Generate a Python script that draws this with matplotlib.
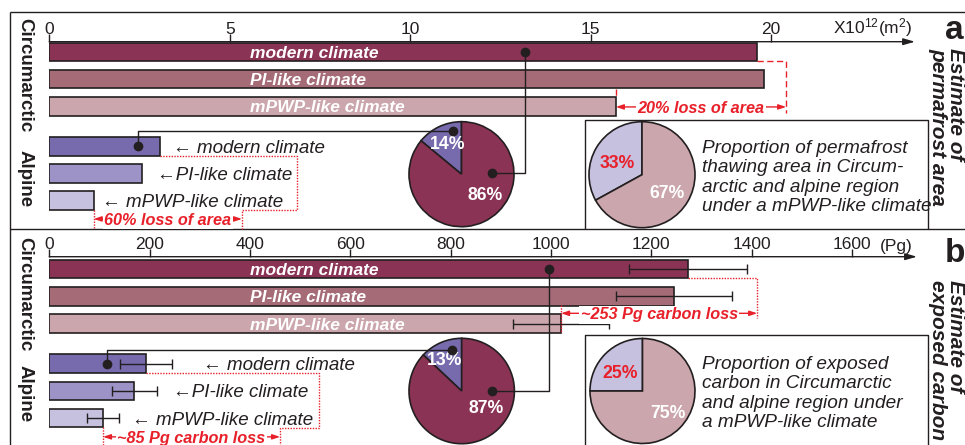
import matplotlib
matplotlib.use("Agg")
import matplotlib.pyplot as plt

plt.rcParams["font.family"] = ["Liberation Sans", "DejaVu Sans"]
plt.rcParams["mathtext.fontset"] = "custom"
plt.rcParams["mathtext.rm"] = "Liberation Sans"
plt.rcParams["mathtext.it"] = "Liberation Sans:italic"
plt.rcParams["mathtext.bf"] = "Liberation Sans:bold"

# ---------------------------------------------------------------- data
climates = ["modern climate", "PI-like climate", "mPWP-like climate"]
alpine_labels = ["\u2190 modern climate", "\u2190PI-like climate", "\u2190 mPWP-like climate"]

# (a) permafrost area, x10^12 m^2
area_circ = [19.6, 19.8, 15.7]
area_alp = [3.07, 2.57, 1.23]
area_ticks = [0, 5, 10, 15, 20]

# (b) exposed carbon, Pg
carbon_circ = [1273, 1245, 1020]
carbon_circ_err = [117, 115, 95]
carbon_alp = [192, 169, 107]
carbon_alp_err = [52, 45, 31]
carbon_ticks = [0, 200, 400, 600, 800, 1000, 1200, 1400, 1600]

# pie shares (alpine, circumarctic)
area_share_modern = [14, 86]
area_share_loss = [33, 67]
carbon_share_modern = [13, 87]
carbon_share_loss = [25, 75]

# ---------------------------------------------------------------- style
INK = "#231f20"
RED = "#e8202a"
CIRC_COLORS = ["#8b3354", "#a56c78", "#cba7ad"]
ALP_COLORS = ["#776bad", "#9e93c6", "#c7c1e0"]
ROWS_CIRC = [0, 1, 2]
ROWS_ALP = [3.47, 4.47, 5.47]
BAR_H = 0.68
DOTTED = (0, (1, 1))
DASHED = (0, (4.5, 2.5))

W, H = 965, 445
fig = plt.figure(figsize=(W / 100, H / 100), dpi=100)


def rect_px(x0, y0, x1, y1):
    return [x0 / W, 1 - y1 / H, (x1 - x0) / W, (y1 - y0) / H]


# background layer in pixel units (frames, boxes, captions)
bg = fig.add_axes([0, 0, 1, 1], zorder=0)
bg.set_xlim(0, W)
bg.set_ylim(H, 0)
bg.axis("off")

for xs, ys in [([10, 10], [12, H]), ([10, W], [12, 12]), ([10, W], [229, 229]),
               ([585, 585, 928, 928], [229, 120, 120, 229]),
               ([585, 585, 928, 928], [H, 335, 335, H])]:
    bg.plot(xs, ys, color=INK, lw=1.0, solid_capstyle="butt")


def bar_panel(rect, xlim, ylim, ticks, circ, alp, circ_err=None, alp_err=None):
    ax = fig.add_axes(rect, zorder=2)
    ax.patch.set_visible(False)
    ax.set_xlim(*xlim)
    ax.set_ylim(*ylim)
    for s in ax.spines.values():
        s.set_visible(False)
    ax.set_yticks([])
    ax.xaxis.set_ticks_position("top")
    ax.set_xticks(ticks)
    ax.set_xticklabels([str(t) for t in ticks])
    ax.tick_params(axis="x", direction="out", length=6, width=1, pad=-2.6,
                   labelsize=12.5, color=INK, labelcolor=INK)
    ax.annotate("", xy=(1, 1), xytext=(0, 1), xycoords="axes fraction",
                arrowprops=dict(arrowstyle="-|>,head_length=0.7,head_width=0.2",
                                color=INK, lw=1, shrinkA=0, shrinkB=0))
    ax.barh(ROWS_CIRC, circ, height=BAR_H, color=CIRC_COLORS,
            edgecolor=INK, linewidth=1.2, zorder=2)
    ax.barh(ROWS_ALP, alp, height=BAR_H, color=ALP_COLORS,
            edgecolor=INK, linewidth=1.2, zorder=2)
    if circ_err is not None:
        ax.errorbar(circ, ROWS_CIRC, xerr=circ_err, fmt="none", ecolor=INK,
                    elinewidth=1, capsize=3.5, capthick=1, zorder=3)
        ax.errorbar(alp, ROWS_ALP, xerr=alp_err, fmt="none", ecolor=INK,
                    elinewidth=1, capsize=3.5, capthick=1, zorder=3)
    return ax


def bar_text(ax, x_in, x_alp):
    for r, lab in zip(ROWS_CIRC, climates):
        ax.text(x_in, r, lab, color="white", fontsize=12.5, fontweight="bold",
                style="italic", ha="left", va="center_baseline", zorder=4)
    for r, lab, x in zip(ROWS_ALP, alpine_labels, x_alp):
        ax.text(x, r, lab, color=INK, fontsize=13.5, style="italic",
                ha="left", va="center_baseline", zorder=4)


def loss_arrow(ax, x0, x1, y, text):
    ax.annotate("", xy=(x0, y), xytext=(x1, y), annotation_clip=False,
                arrowprops=dict(arrowstyle="<|-|>,head_length=0.45,head_width=0.15",
                                color=RED, lw=1, shrinkA=0, shrinkB=0))
    ax.text((x0 + x1) / 2, y, text, color=RED, fontsize=11.7, fontweight="bold",
            style="italic", ha="center", va="center_baseline", zorder=6,
            bbox=dict(facecolor="white", edgecolor="none", pad=1.0))


def red_path(ax, xs, ys, ls):
    ax.plot(xs, ys, color=RED, lw=1, linestyle=ls, clip_on=False, zorder=5)


def pie_panel(cx, cy, r, shares, colors, label_pos, label_colors):
    m = 1.05
    ax = fig.add_axes(rect_px(cx - r * m, cy - r * m, cx + r * m, cy + r * m), zorder=1)
    ax.pie(shares, colors=colors, startangle=90, counterclock=True,
           wedgeprops=dict(edgecolor=INK, linewidth=1.2))
    ax.set_xlim(-m, m)
    ax.set_ylim(-m, m)
    for share, (tx, ty), c in zip(shares, label_pos, label_colors):
        ax.text(tx, ty, f"{share}%", color=c, fontsize=12.7, fontweight="bold",
                ha="center", va="center_baseline")
    return ax


def connector(ax, bar_xy, pie_ax, pie_xy):
    disp = pie_ax.transData.transform(pie_xy)
    px, py = ax.transData.inverted().transform(disp)
    bx, by = bar_xy
    ax.plot([bx, bx, px], [by, py, py], color=INK, lw=1, clip_on=False, zorder=5)
    ax.plot([bx, px], [by, py], "o", color=INK, ms=6, clip_on=False, zorder=6)


# ---------------------------------------------------------------- panel a
ax_a = bar_panel(rect_px(49.3, 41.7, 915, 229), (0, 23.99), (6.51, -0.379),
                 area_ticks, area_circ, area_alp)
bar_text(ax_a, 5.57, [3.43, 2.99, 1.46])

top = ROWS_CIRC[0] + BAR_H / 2
red_path(ax_a, [area_circ[0], 20.42, 20.42], [top, top, 2.24], DASHED)
red_path(ax_a, [area_circ[2]] * 2, [1.36, ROWS_CIRC[2] - BAR_H / 2], DASHED)
loss_arrow(ax_a, area_circ[2], 20.42, 2.02, "20% loss of area")

abot = ROWS_ALP[0] + BAR_H / 2
mbot = ROWS_ALP[2] + BAR_H / 2
red_path(ax_a, [area_alp[0], 6.87, 6.87, 5.34, 5.34],
         [abot, abot, mbot, mbot, 6.51], DOTTED)
red_path(ax_a, [area_alp[2]] * 2, [mbot, 6.51], DOTTED)
loss_arrow(ax_a, area_alp[2], 5.34, 6.14, "60% loss of area")

pie_a1 = pie_panel(461.5, 174.2, 52.5, area_share_modern,
                   [ALP_COLORS[0], CIRC_COLORS[0]],
                   [(-0.26, 0.61), (0.45, -0.36)], ["white", "white"])
pie_a2 = pie_panel(642, 174.7, 53, area_share_loss,
                   [ALP_COLORS[2], CIRC_COLORS[2]],
                   [(-0.47, 0.24), (0.47, -0.31)], [RED, "white"])
connector(ax_a, (13.18, ROWS_CIRC[0]), pie_a1, (0.575, 0.02))
connector(ax_a, (2.47, ROWS_ALP[0]), pie_a1, (-0.16, 0.83))

# ---------------------------------------------------------------- panel b
ax_b = bar_panel(rect_px(49.3, 256.7, 917, 445), (0, 1729.5), (6.46, -0.46),
                 carbon_ticks, carbon_circ, carbon_alp, carbon_circ_err, carbon_alp_err)
bar_text(ax_b, 400, [306, 246, 165])

red_path(ax_b, [carbon_circ[0], 1411, 1411], [top, top, 1.8], DOTTED)
red_path(ax_b, [carbon_circ[2]] * 2, [1.32, ROWS_CIRC[2] + BAR_H / 2], DOTTED)
loss_arrow(ax_b, carbon_circ[2], 1411, 1.62, "~253 Pg carbon loss")

red_path(ax_b, [carbon_alp[0], 538, 538, 460, 460],
         [abot, abot, 5.84, 5.84, 6.46], DOTTED)
red_path(ax_b, [carbon_alp[2]] * 2, [mbot, 6.46], DOTTED)
loss_arrow(ax_b, carbon_alp[2], 460, 6.16, "~85 Pg carbon loss")

pie_b1 = pie_panel(461.7, 391, 52.7, carbon_share_modern,
                   [ALP_COLORS[0], CIRC_COLORS[0]],
                   [(-0.32, 0.62), (0.46, -0.30)], ["white", "white"])
pie_b2 = pie_panel(642.5, 391, 52.5, carbon_share_loss,
                   [ALP_COLORS[2], CIRC_COLORS[2]],
                   [(-0.43, 0.38), (0.49, -0.39)], [RED, "white"])
connector(ax_b, (996, ROWS_CIRC[0]), pie_b1, (0.57, 0.0))
connector(ax_b, (116, ROWS_ALP[0]), pie_b1, (-0.18, 0.78))

# ---------------------------------------------------------------- captions
bg.text(833, 28, r"X10$^{12}$(m$^{2}$)", fontsize=12.5, color=INK, va="center")
bg.text(880, 246, "(Pg)", fontsize=12.5, color=INK, va="center")

for (x, y, s) in [(20.5, 18, "Circumarctic"), (20.5, 150, "Alpine"),
                  (20.5, 237, "Circumarctic"), (20.5, 365, "Alpine")]:
    bg.text(x, y, s, rotation=-90, rotation_mode="anchor", ha="left",
            va="baseline", fontsize=13.5, fontweight="bold", color=INK)

bg.text(954, 39, "a", fontsize=24, fontweight="bold", color=INK,
        ha="center", va="baseline")
bg.text(955, 262, "b", fontsize=24, fontweight="bold", color=INK,
        ha="center", va="baseline")
# two-line side captions; the anchor is the baseline of the second line
for (y, s) in [(48, "Estimate of\npermafrost area"), (280, "Estimate of\nexposed carbon")]:
    bg.text(931, y, s, rotation=-90, rotation_mode="anchor", ha="left",
            va="baseline", fontsize=15, fontweight="bold", style="italic",
            color=INK, linespacing=0.9)

inset_a = ["Proportion of permafrost", "thawing area in Circum-",
           "arctic and alpine region", "under a mPWP-like climate"]
inset_b = ["Proportion of exposed", "carbon in Circumarctic",
           "and alpine region under", "a mPWP-like climate"]
for lines, y0 in [(inset_a, 153), (inset_b, 369)]:
    for i, line in enumerate(lines):
        bg.text(702, y0 + 19.3 * i, line, fontsize=13.7, style="italic",
                color=INK, ha="left", va="baseline")

fig.savefig("out.png", dpi=100)
